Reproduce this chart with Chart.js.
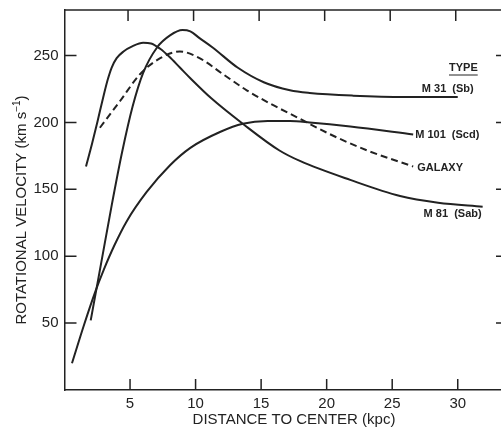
<!DOCTYPE html>
<html>
<head>
<meta charset="utf-8">
<script src="https://cdn.jsdelivr.net/npm/chart.js@4"></script>
<style>
  body { margin: 0; background: #fff; }
</style>
</head>
<body>
<canvas id="myChart" width="501" height="430"></canvas>
<script>
'use strict'
// values: distance (kpc) and rotational velocity (km/s)
const m31X = [2.0, 2.8, 3.6, 4.4, 5.2, 6.0, 7.06, 8.05, 9.0, 9.6, 10.3, 11.3, 13.2, 15.2, 17.2, 18.7, 22, 26, 30];
const m31Y = [52, 95, 138, 178, 212, 237, 256, 265, 269, 268, 263, 256, 241, 230, 224, 222, 220, 219, 219];

const m101X = [0.57, 1.5, 2.33, 3.0, 3.8, 4.74, 6.27, 8.05, 9.6, 11.9, 13.6, 15.5, 17.2, 18.7, 21.8, 26.6];
const m101Y = [20, 49, 73, 90, 108, 126, 148, 168, 181, 193, 199, 201, 201, 200, 197, 191];

const galaxyX = [2.7, 4.24, 5.76, 7.3, 8.8, 10.3, 12.1, 13.9, 15.7, 17.7, 20.5, 23.1, 26.6];
const galaxyY = [196, 216, 236, 248, 253, 248, 236, 224, 214, 204, 190, 179, 167];

const m81X = [1.64, 2.1, 2.5, 2.96, 3.3, 3.6, 3.98, 4.5, 5.2, 6.0, 6.6, 7.3, 8.0, 8.8, 9.6, 11.2, 13.6, 16.4, 18, 21.8, 25.6, 28.5, 31.9];
const m81Y = [167, 184, 200, 219, 232, 241, 248, 253, 257, 259.5, 259, 255, 249, 241, 233, 218, 199, 179, 171, 157, 145, 140, 137];

const xTicks = [5, 10, 15, 20, 25, 30];
const yTicks = [50, 100, 150, 200, 250];
const seriesLabels = ['M 31  (Sb)', 'M 101  (Scd)', 'GALAXY', 'M 81  (Sab)'];
const legendTitle = 'TYPE';
const xTitle = 'DISTANCE TO CENTER (kpc)';
const yTitle = 'ROTATIONAL VELOCITY (km s';

const ink = '#222';

function toPoints(xs, ys) {
    return xs.map((x, i) => ({ x: x, y: ys[i] }));
}

const extras = {
    id: 'extras',
    afterDraw(chart) {
        const ctx = chart.ctx;
        const a = chart.chartArea;
        const xs = chart.scales.x;
        const ys = chart.scales.y;
        ctx.save();
        ctx.strokeStyle = ink;
        ctx.fillStyle = ink;

        // top frame line
        ctx.lineWidth = 1.5;
        ctx.beginPath();
        ctx.moveTo(a.left, a.top);
        ctx.lineTo(a.right, a.top);
        ctx.stroke();

        // inward ticks on all sides
        ctx.beginPath();
        xTicks.forEach(v => {
            let px = xs.getPixelForValue(v);
            ctx.moveTo(px, a.bottom);
            ctx.lineTo(px, a.bottom - 11);
            ctx.moveTo(px - 2, a.top);
            ctx.lineTo(px - 2, a.top + 11);
        });
        yTicks.forEach(v => {
            let py = ys.getPixelForValue(v);
            ctx.moveTo(a.left, py);
            ctx.lineTo(a.left + 12, py);
            ctx.moveTo(a.right, py);
            ctx.lineTo(a.right - 5, py);
        });
        ctx.stroke();

        // series labels at line ends
        ctx.font = 'bold 11px "Liberation Sans", Arial, sans-serif';
        ctx.textBaseline = 'middle';
        let ds = chart.data.datasets;
        let end = i => {
            let d = ds[i].data[ds[i].data.length - 1];
            return { x: xs.getPixelForValue(d.x), y: ys.getPixelForValue(d.y) };
        };
        let e0 = end(0), e1 = end(1), e2 = end(2), e3 = end(3);
        ctx.textAlign = 'right';
        ctx.fillText(seriesLabels[0], e0.x + 16, e0.y - 8);
        ctx.fillText(seriesLabels[3], e3.x - 1, e3.y + 7);
        ctx.textAlign = 'left';
        ctx.fillText(seriesLabels[1], e1.x + 2, e1.y + 1);
        ctx.fillText(seriesLabels[2], e2.x + 4, e2.y + 1);

        // legend heading, underlined
        let tw = ctx.measureText(legendTitle).width;
        let tx = 449, ty = 68;
        ctx.fillText(legendTitle, tx, ty);
        ctx.lineWidth = 1;
        ctx.beginPath();
        ctx.moveTo(tx, ty + 7);
        ctx.lineTo(tx + tw, ty + 7);
        ctx.stroke();

        // x axis title
        ctx.font = '15px "Liberation Sans", Arial, sans-serif';
        ctx.textAlign = 'center';
        ctx.textBaseline = 'middle';
        ctx.fillText(xTitle, 294, 420);

        // y axis title with superscript
        ctx.translate(22, 210);
        ctx.rotate(-Math.PI / 2);
        let mainFont = '15px "Liberation Sans", Arial, sans-serif';
        let supFont = '10px "Liberation Sans", Arial, sans-serif';
        ctx.font = mainFont;
        let w1 = ctx.measureText(yTitle).width;
        let w3 = ctx.measureText(')').width;
        ctx.font = supFont;
        let w2 = ctx.measureText('\u22121').width;
        let start = -(w1 + w2 + w3) / 2;
        ctx.textAlign = 'left';
        ctx.font = mainFont;
        ctx.fillText(yTitle, start, 0);
        ctx.font = supFont;
        ctx.fillText('\u22121', start + w1, -5);
        ctx.font = mainFont;
        ctx.fillText(')', start + w1 + w2, 0);
        ctx.restore();
    }
};

function lineSet(xs, ys, dashed) {
    return {
        data: toPoints(xs, ys),
        showLine: true,
        borderColor: ink,
        borderWidth: 2,
        borderDash: dashed ? [7, 4] : [],
        pointRadius: 0,
        cubicInterpolationMode: 'monotone',
        fill: false
    };
}

let ctx = document.getElementById('myChart');
let myChart = new Chart(ctx, {
    type: 'scatter',
    data: {
        datasets: [
            lineSet(m31X, m31Y, false),
            lineSet(m101X, m101Y, false),
            lineSet(galaxyX, galaxyY, true),
            lineSet(m81X, m81Y, false)
        ]
    },
    options: {
        responsive: false,
        animation: false,
        layout: { padding: { top: 10, left: 0, right: 0, bottom: 0 } },
        plugins: { legend: { display: false }, tooltip: { enabled: false } },
        scales: {
            x: {
                type: 'linear',
                min: 0,
                max: 33.3,
                grid: { display: false, drawTicks: false },
                border: { display: true, color: ink, width: 1.5 },
                afterBuildTicks: s => { s.ticks = xTicks.map(v => ({ value: v })); },
                afterFit: s => { s.height = 40; s.paddingLeft = 0; s.paddingRight = 0; },
                ticks: {
                    color: ink,
                    padding: 5,
                    font: { family: '"Liberation Sans", Arial, sans-serif', size: 15 }
                }
            },
            y: {
                type: 'linear',
                min: 0,
                max: 284,
                grid: { display: false, drawTicks: false },
                border: { display: true, color: ink, width: 1.5 },
                afterBuildTicks: s => { s.ticks = yTicks.map(v => ({ value: v })); },
                afterFit: s => { s.width = 64.5; s.paddingTop = 0; s.paddingBottom = 0; },
                ticks: {
                    color: ink,
                    padding: 6,
                    font: { family: '"Liberation Sans", Arial, sans-serif', size: 15 }
                }
            }
        }
    },
    plugins: [extras]
});
</script>
</body>
</html>
